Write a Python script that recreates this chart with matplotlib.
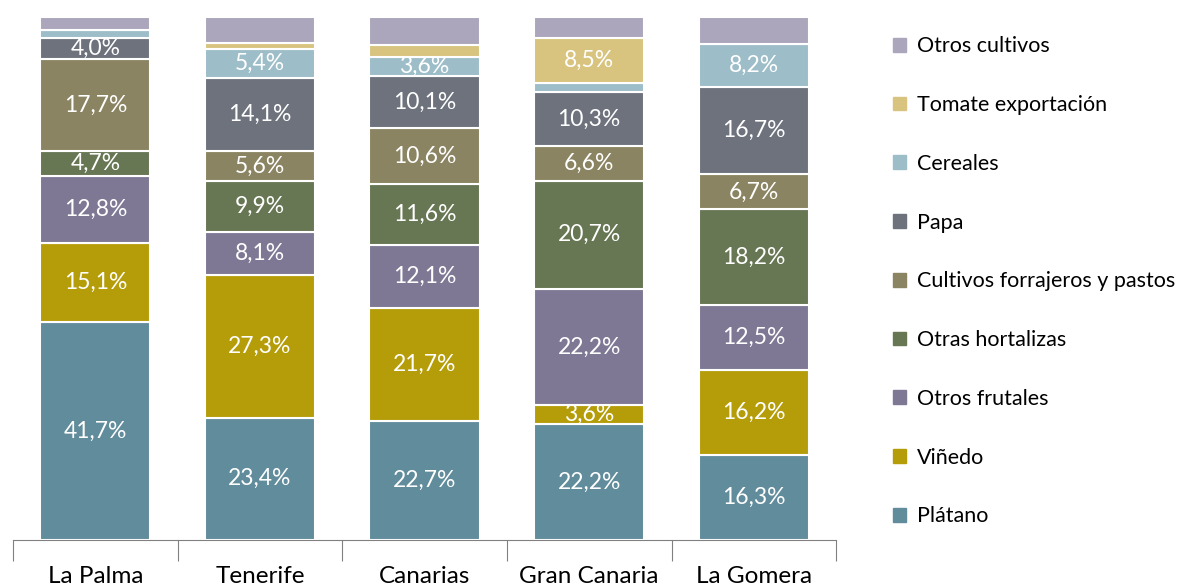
import matplotlib.pyplot as plt
import numpy as np
from matplotlib.patches import Patch

plt.rcParams['font.family'] = ['Lato', 'DejaVu Sans']

# datos (% de superficie cultivada)
islas = ['La Palma', 'Tenerife', 'Canarias', 'Gran Canaria', 'La Gomera']
cultivos = ['Plátano', 'Viñedo', 'Otros frutales', 'Otras hortalizas',
            'Cultivos forrajeros y pastos', 'Papa', 'Cereales',
            'Tomate exportación', 'Otros cultivos']

platano = [41.7, 23.4, 22.7, 22.2, 16.3]
vinedo = [15.1, 27.3, 21.7, 3.6, 16.2]
otros_frutales = [12.8, 8.1, 12.1, 22.2, 12.5]
otras_hortalizas = [4.7, 9.9, 11.6, 20.7, 18.2]
forrajeros = [17.7, 5.6, 10.6, 6.6, 6.7]
papa = [4.0, 14.1, 10.1, 10.3, 16.7]
cereales = [1.5, 5.4, 3.6, 1.8, 8.2]
tomate = [0.0, 1.2, 2.3, 8.5, 0.0]
otros_cultivos = [2.5, 5.0, 5.3, 4.1, 5.2]

series = [platano, vinedo, otros_frutales, otras_hortalizas, forrajeros,
          papa, cereales, tomate, otros_cultivos]
colores = ['#618c9b', '#b59d0a', '#7e7894', '#677653', '#8a8462',
           '#6d727d', '#9dbdc8', '#d8c47f', '#aba6bc']

fig = plt.figure(figsize=(11.81, 5.86), dpi=100)
ax = fig.add_axes([0.011, 0.0785, 0.697, 0.8925])

x = np.arange(len(islas))
abajo = np.zeros(len(islas))
for nombre, vals, c in zip(cultivos, series, colores):
    vals = np.array(vals)
    ax.bar(x, vals, 0.67, bottom=abajo, color=c, edgecolor='white',
           linewidth=1.5, label=nombre)
    if nombre != 'Otros cultivos':
        for xi, b, v in zip(x, abajo, vals):
            if v >= 3:
                ax.text(xi, b + v / 2, f'{v:.1f}%'.replace('.', ','),
                        ha='center', va='center', color='white', fontsize=16.5)
    abajo += vals

ax.set_xlim(-0.5, 4.5)
ax.set_ylim(0, 100)
ax.set_yticks([])
for s in ['top', 'right', 'left']:
    ax.spines[s].set_visible(False)
ax.spines['bottom'].set_color('#808080')
ax.set_xticks(np.arange(-0.5, 5, 1))
ax.set_xticklabels([])
ax.set_xticks(x, minor=True)
ax.set_xticklabels(islas, minor=True, fontsize=17.5)
ax.tick_params(axis='x', which='major', length=15, color='#808080')
ax.tick_params(axis='x', which='minor', length=0, pad=19)

handles = [Patch(color=c, label=n) for n, c in zip(cultivos, colores)][::-1]
fig.legend(handles=handles, loc='center left', bbox_to_anchor=(0.74, 0.52),
           frameon=False, fontsize=15.5, handlelength=0.6, handleheight=0.6,
           handletextpad=0.5, labelspacing=1.8)

fig.savefig('out.png', dpi=100)
